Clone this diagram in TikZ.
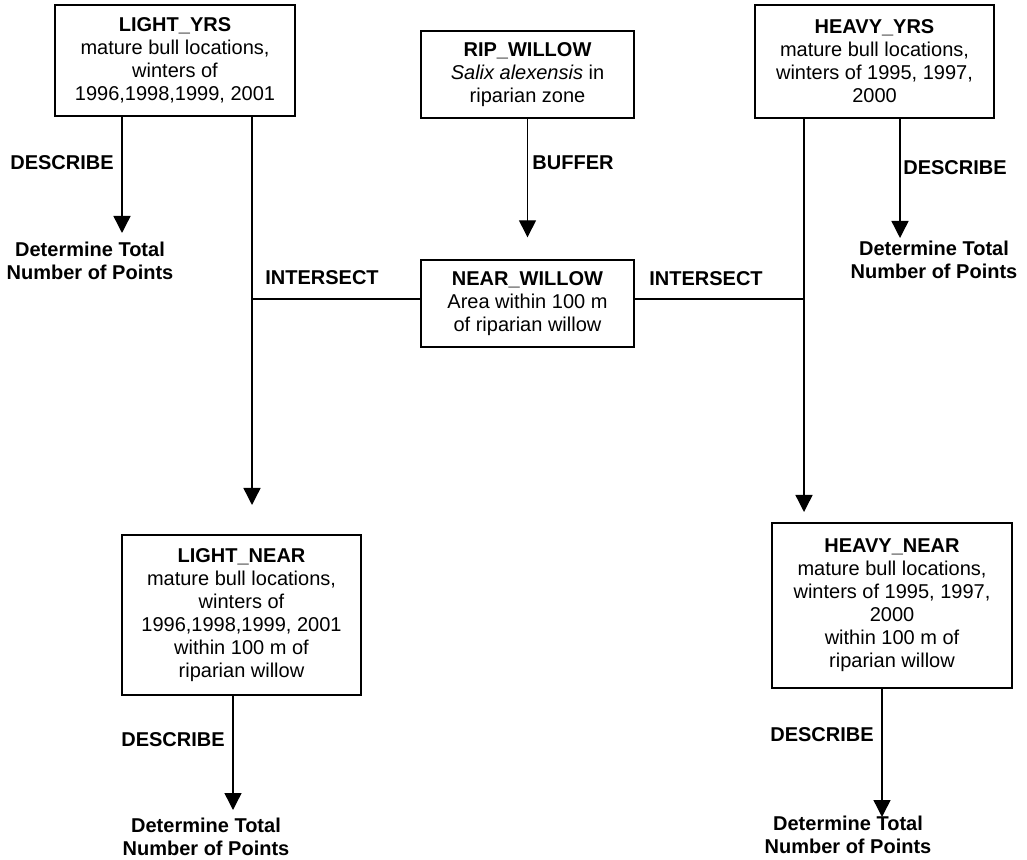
\documentclass[tikz,border=0pt]{standalone}
\usepackage{fontspec}
\setmainfont{Liberation Sans}
\usetikzlibrary{arrows.meta, positioning}

\begin{document}
\begin{tikzpicture}[x=0.5pt, y=-0.5pt,
    % Define styles
    layer/.style={rectangle, draw, line width=0.7pt, align=center, inner sep=2pt, font=\fontsize{10}{11.5}\selectfont},
    result/.style={align=center, font=\fontsize{10}{11.5}\selectfont\bfseries},
    oplabel/.style={font=\fontsize{10}{11.5}\selectfont\bfseries},
    arrow/.style={-{Triangle[width=8.5pt, length=8.5pt]}, line width=0.7pt},
    link/.style={line width=0.6pt}
  ]
  \useasboundingbox (0,0) rectangle (1027,860);

  % Input layers
  \node[layer, minimum width=120pt, minimum height=55.5pt] (lightyrs) at (175,60.5)
    {\textbf{LIGHT\_YRS}\\mature bull locations,\\winters of\\1996,1998,1999, 2001};
  \node[layer, minimum width=106.5pt, minimum height=43.5pt] (ripwillow) at (527.5,74.5)
    {\textbf{RIP\_WILLOW}\\\textit{Salix alexensis} in\\riparian zone};
  \node[layer, minimum width=119.5pt, minimum height=56.5pt] (heavyyrs) at (874.5,61.5)
    {\textbf{HEAVY\_YRS}\\mature bull locations,\\winters of 1995, 1997,\\2000};

  % Buffer zone
  \node[layer, minimum width=106.5pt, minimum height=43.5pt] (nearwillow) at (527.5,303.5)
    {\textbf{NEAR\_WILLOW}\\Area within 100 m\\of riparian willow};
  \draw[arrow, shorten >=11pt] (ripwillow) -- (nearwillow);
  \node[oplabel] (buffer) at (573,163) {BUFFER};

  % Intersected layers
  \node[layer, minimum width=119.5pt, minimum height=80pt] (lightnear) at (241.5,615)
    {\textbf{LIGHT\_NEAR}\\mature bull locations,\\winters of\\1996,1998,1999, 2001\\within 100 m of\\riparian willow};
  \node[layer, minimum width=120pt, minimum height=82.5pt] (heavynear) at (892,605.5)
    {\textbf{HEAVY\_NEAR}\\mature bull locations,\\winters of 1995, 1997,\\2000\\within 100 m of\\riparian willow};

  % Arrow tips
  \coordinate (lightjoin) at (252,505);
  \coordinate (heavyjoin) at (804,512);
  \coordinate (lyd) at (122,233);
  \coordinate (hyd) at (900,238);
  \coordinate (lnd) at (233,810);
  \coordinate (hnd) at (882,817);

  % Intersect
  \draw[arrow] (lightyrs.south -| lightjoin) -- (lightjoin);
  \draw[arrow] (heavyyrs.south -| heavyjoin) -- (heavyjoin);
  \draw[link] ([yshift=2.25pt]nearwillow.west) -- ([yshift=2.25pt]nearwillow.west -| lightjoin);
  \draw[link] ([yshift=2.25pt]nearwillow.east) -- ([yshift=2.25pt]nearwillow.east -| heavyjoin);
  \node[oplabel] (intersectl) at (322,278) {INTERSECT};
  \node[oplabel] (intersectr) at (706,279) {INTERSECT};

  % Describe
  \draw[arrow] (lightyrs.south -| lyd) -- (lyd);
  \draw[arrow] (heavyyrs.south -| hyd) -- (hyd);
  \draw[arrow] (lightnear.south -| lnd) -- (lnd);
  \draw[arrow] (heavynear.south -| hnd) -- (hnd);
  \node[oplabel] (describe1) at (62,163) {DESCRIBE};
  \node[oplabel] (describe2) at (955,168) {DESCRIBE};
  \node[oplabel] (describe3) at (173,740) {DESCRIBE};
  \node[oplabel] (describe4) at (822,735) {DESCRIBE};

  % Totals
  \node[result] (lighttotal) at (90,261) {Determine Total\\Number of Points};
  \node[result] (heavytotal) at (934,260) {Determine Total\\Number of Points};
  \node[result] (lightneartotal) at (206,837) {Determine Total\\Number of Points};
  \node[result] (heavyneartotal) at (848,835) {Determine Total\\Number of Points};

\end{tikzpicture}
\end{document}
